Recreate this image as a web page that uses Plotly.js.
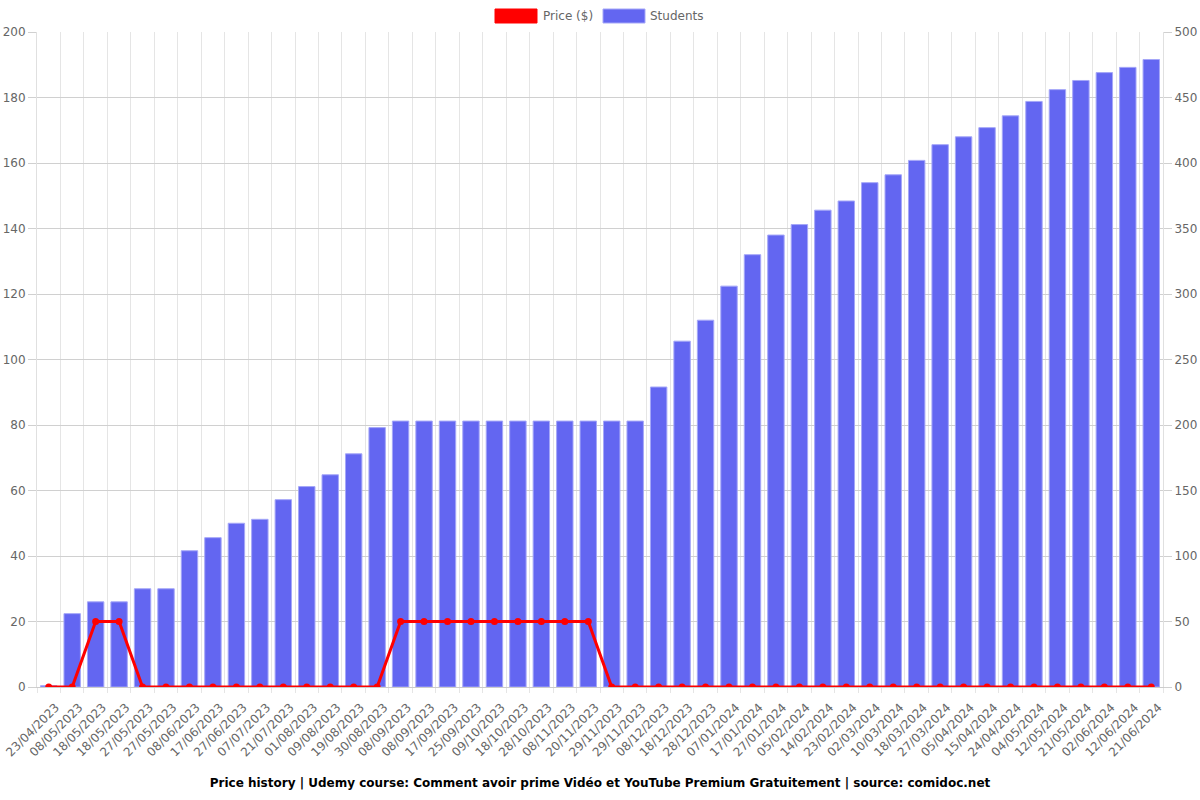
<!DOCTYPE html>
<html>
<head>
<meta charset="utf-8">
<script src="https://cdn.plot.ly/plotly-3.0.1.min.js"></script>
<style>html,body{margin:0;padding:0;background:#fff;}#chart{width:1200px;height:800px;}</style>
</head>
<body>
<div id="chart"></div>
<script>
const dates = ["23/04/2023","08/05/2023","18/05/2023","18/05/2023","27/05/2023","27/05/2023","08/06/2023","17/06/2023","27/06/2023","07/07/2023","21/07/2023","01/08/2023","09/08/2023","19/08/2023","30/08/2023","08/09/2023","08/09/2023","17/09/2023","25/09/2023","09/10/2023","18/10/2023","28/10/2023","08/11/2023","20/11/2023","29/11/2023","29/11/2023","08/12/2023","18/12/2023","28/12/2023","07/01/2024","17/01/2024","27/01/2024","05/02/2024","14/02/2024","23/02/2024","02/03/2024","10/03/2024","18/03/2024","27/03/2024","05/04/2024","15/04/2024","24/04/2024","04/05/2024","12/05/2024","21/05/2024","02/06/2024","12/06/2024","21/06/2024"];
const price = [0,0,20,20,0,0,0,0,0,0,0,0,0,0,0,20,20,20,20,20,20,20,20,20,0,0,0,0,0,0,0,0,0,0,0,0,0,0,0,0,0,0,0,0,0,0,0,0];
const students = [1,56,65,65,75,75,104,114,125,128,143,153,162,178,198,203,203,203,203,203,203,203,203,203,203,203,229,264,280,306,330,345,353,364,371,385,391,402,414,420,427,436,447,456,463,469,473,479];
const leftTicks = [0,20,40,60,80,100,120,140,160,180,200];
const rightTicks = [0,50,100,150,200,250,300,350,400,450,500];

const idx = dates.map((d,i)=>i);
const bounds = [];
for (let i=0;i<=dates.length;i++) bounds.push(i-0.5);

const tickFont = {family:"DejaVu Sans, sans-serif", size:12, color:"#666"};

const traces = [
  {type:"bar", x:idx, y:students, xaxis:"x", yaxis:"y", name:"Students",
   marker:{color:"#6366f1", line:{color:"rgba(165,167,248,1)", width:1}},
   showlegend:false, hoverinfo:"y"},
  {type:"scatter", mode:"lines+markers", x:idx, y:price, xaxis:"x", yaxis:"y2", name:"Price ($)",
   line:{color:"#ff0000", width:3}, marker:{color:"#ff0000", size:7},
   showlegend:false, hoverinfo:"y"},
  {type:"scatter", mode:"markers", x:idx, y:price, xaxis:"x2", yaxis:"y2", name:"labels",
   marker:{opacity:0, size:1}, showlegend:false, hoverinfo:"skip"}
];

const toPX = px => (px-37)/1126;
const toPY = py => (687-py)/655;
const labelShift = 0.3; // shift tick labels slightly right (in category units)

const layout = {
  width:1200, height:800,
  margin:{l:37, r:37, t:32, b:113},
  paper_bgcolor:"#fff", plot_bgcolor:"#fff",
  font:{family:"DejaVu Sans, sans-serif", color:"#666", size:12},
  bargap:0.3,
  showlegend:false,
  xaxis:{range:[-0.5, dates.length-0.5], tickmode:"array", tickvals:bounds, showticklabels:false,
         showgrid:true, gridcolor:"#e5e5e5", gridwidth:1, ticks:"outside", ticklen:5, tickcolor:"#e5e5e5",
         showline:true, linecolor:"#cccccc", zeroline:false, fixedrange:true},
  xaxis2:{overlaying:"x", anchor:"y", side:"bottom", range:[-0.5-labelShift, dates.length-0.5-labelShift], tickmode:"array",
          tickvals:idx, ticktext:dates, tickangle:-45, tickfont:tickFont, showgrid:false, ticks:"",
          ticklabelstandoff:10, ticklabeloverflow:"allow", zeroline:false, showline:false},
  yaxis:{side:"right", range:[0,500], tickmode:"array", tickvals:rightTicks, tickfont:tickFont,
         showgrid:true, gridcolor:"#d0d0d0", ticks:"outside", ticklen:8, tickcolor:"#d0d0d0",
         showline:true, linecolor:"#e0e0e0", zeroline:false},
  yaxis2:{overlaying:"y", side:"left", anchor:"x", range:[0,200], tickmode:"array", tickvals:leftTicks, tickfont:tickFont,
          showgrid:false, ticks:"outside", ticklen:8, tickcolor:"#d0d0d0",
          showline:true, linecolor:"#e0e0e0", zeroline:false},
  title:{text:"<b>Price history | Udemy course: Comment avoir prime Vidéo et YouTube Premium Gratuitement | source: comidoc.net</b>",
         font:{family:"DejaVu Sans, sans-serif", size:12, color:"#000"},
         x:0.5, xanchor:"center", xref:"paper", y:1-783/800, yref:"container", yanchor:"middle"},
  shapes:[
    {type:"rect", xref:"paper", yref:"paper", x0:toPX(495), x1:toPX(537), y0:toPY(23), y1:toPY(9),
     fillcolor:"#ff0000", line:{color:"#ff0000", width:1}},
    {type:"rect", xref:"paper", yref:"paper", x0:toPX(603), x1:toPX(645), y0:toPY(23), y1:toPY(9),
     fillcolor:"#6366f1", line:{color:"rgba(165,167,248,1)", width:1}}
  ],
  annotations:[
    {xref:"paper", yref:"paper", x:toPX(541), y:toPY(16), xanchor:"left", yanchor:"middle", showarrow:false,
     text:"Price ($)", font:{family:"DejaVu Sans, sans-serif", size:12, color:"#666"}},
    {xref:"paper", yref:"paper", x:toPX(648), y:toPY(16), xanchor:"left", yanchor:"middle", showarrow:false,
     text:"Students", font:{family:"DejaVu Sans, sans-serif", size:12, color:"#666"}}
  ]
};

Plotly.newPlot("chart", traces, layout, {displayModeBar:false, staticPlot:true});
</script>
</body>
</html>
